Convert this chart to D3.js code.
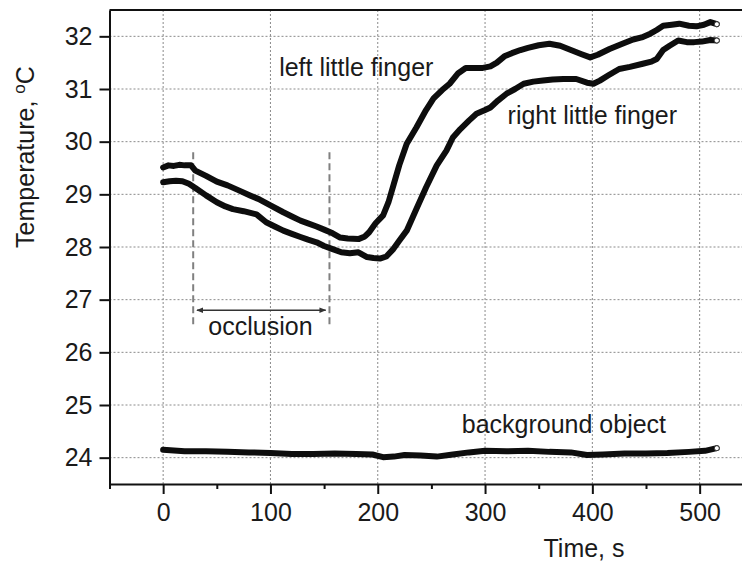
<!DOCTYPE html>
<html>
<head>
<meta charset="utf-8">
<script src="https://cdn.jsdelivr.net/npm/d3@7"></script>
<style>
    body { margin: 0; background: #fff; }
    svg { display: block; font-family: "Liberation Sans", Arial, sans-serif; }
</style>
</head>
<body>
<div id="chart"></div>
<script>
// Time (s) and temperature (oC)
var leftTime = [0, 5, 10, 15, 20, 26, 30, 40, 50, 60, 70, 81, 90, 100, 112, 120, 128, 135, 143, 150, 158, 165, 172, 182, 188, 192, 198, 205, 210, 215, 220, 227, 236, 245, 252, 260, 267, 275, 282, 290, 298, 305, 311, 318, 325, 333, 340, 350, 360, 370, 380, 390, 398, 405, 416, 428, 438, 446, 454, 460, 466, 474, 481, 490, 497, 504, 510, 516];
var leftTemp = [29.51, 29.55, 29.54, 29.56, 29.55, 29.55, 29.45, 29.35, 29.24, 29.17, 29.08, 28.98, 28.9, 28.79, 28.66, 28.58, 28.5, 28.45, 28.39, 28.33, 28.26, 28.18, 28.16, 28.15, 28.2, 28.28, 28.45, 28.6, 28.85, 29.2, 29.55, 29.96, 30.27, 30.6, 30.82, 30.98, 31.1, 31.3, 31.4, 31.4, 31.4, 31.43, 31.5, 31.62, 31.68, 31.74, 31.78, 31.83, 31.86, 31.82, 31.74, 31.66, 31.6, 31.65, 31.76, 31.86, 31.94, 31.98, 32.05, 32.12, 32.2, 32.22, 32.24, 32.2, 32.19, 32.22, 32.27, 32.23];

var rightTime = [0, 6, 12, 18, 24, 30, 40, 50, 58, 65, 75, 87, 96, 105, 112, 120, 128, 135, 143, 150, 158, 166, 174, 182, 190, 196, 202, 208, 214, 220, 227, 236, 245, 255, 264, 270, 277, 285, 292, 300, 305, 312, 320, 328, 336, 345, 354, 363, 373, 385, 395, 401, 407, 415, 425, 435, 447, 455, 460, 466, 472, 480, 488, 495, 502, 510, 516];
var rightTemp = [29.23, 29.25, 29.26, 29.25, 29.2, 29.12, 28.98, 28.85, 28.77, 28.72, 28.68, 28.62, 28.47, 28.38, 28.31, 28.25, 28.19, 28.14, 28.09, 28.02, 27.96, 27.9, 27.88, 27.9, 27.81, 27.79, 27.78, 27.82, 27.95, 28.12, 28.31, 28.72, 29.13, 29.55, 29.83, 30.08, 30.24, 30.4, 30.53, 30.6, 30.65, 30.78, 30.91, 31.0, 31.1, 31.14, 31.16, 31.18, 31.19, 31.19, 31.12, 31.1, 31.16, 31.26, 31.38, 31.42, 31.48, 31.52, 31.57, 31.74, 31.82, 31.92, 31.89, 31.89, 31.9, 31.93, 31.92];

var bgTime = [0, 20, 40, 60, 80, 100, 120, 140, 160, 180, 195, 205, 215, 225, 240, 255, 270, 285, 300, 320, 340, 360, 380, 395, 410, 430, 450, 470, 490, 505, 516];
var bgTemp = [24.15, 24.12, 24.12, 24.11, 24.1, 24.09, 24.07, 24.07, 24.08, 24.07, 24.06, 24.01, 24.02, 24.05, 24.04, 24.02, 24.06, 24.1, 24.13, 24.12, 24.13, 24.11, 24.1, 24.05, 24.06, 24.08, 24.08, 24.09, 24.11, 24.13, 24.18];

var xTicks = [0, 100, 200, 300, 400, 500];
var xMinorTicks = [-50, 50, 150, 250, 350, 450, 550];
var yTicks = [24, 25, 26, 27, 28, 29, 30, 31, 32];

// Occlusion window (s) and annotation labels
var occlusion = [28, 155];
var labels = [
    { text: "left little finger", t: 180, v: 31.25 },
    { text: "right little finger", t: 400, v: 30.34 },
    { text: "background object", t: 373.5, v: 24.46 },
    { text: "occlusion", t: 90.7, v: 26.32 }
];

var width = 742;
var height = 562;

var x = d3.scaleLinear().domain([-50, 550]).range([109.5, 753.3]);
var y = d3.scaleLinear().domain([23.5, 32.5]).range([484, 10]);

var svg = d3.select("#chart").append("svg")
    .attr("width", width)
    .attr("height", height);

// Dotted grid
var grid = svg.append("g")
    .attr("stroke", "#8a8a8a")
    .attr("stroke-width", 1)
    .attr("stroke-dasharray", "2,2");

grid.selectAll(".vgrid").data(xTicks).enter().append("line")
    .attr("x1", function (d) { return x(d); })
    .attr("x2", function (d) { return x(d); })
    .attr("y1", y.range()[1])
    .attr("y2", y.range()[0]);

grid.selectAll(".hgrid").data(yTicks).enter().append("line")
    .attr("x1", x.range()[0])
    .attr("x2", x.range()[1])
    .attr("y1", function (d) { return y(d); })
    .attr("y2", function (d) { return y(d); });

// Axes
var xAxis = svg.append("g")
    .attr("transform", "translate(0," + y.range()[0] + ")")
    .call(d3.axisBottom(x).tickValues(xTicks).tickSize(10).tickPadding(9).tickSizeOuter(0));

var xMinor = svg.append("g")
    .attr("transform", "translate(0," + y.range()[0] + ")")
    .call(d3.axisBottom(x).tickValues(xMinorTicks).tickSize(5).tickFormat("").tickSizeOuter(0));
xMinor.select(".domain").remove();

var yAxis = svg.append("g")
    .attr("transform", "translate(" + x.range()[0] + ",0)")
    .call(d3.axisLeft(y).tickValues(yTicks).tickSize(10).tickPadding(7).tickSizeOuter(0));

// Top frame line
svg.append("line")
    .attr("x1", x.range()[0]).attr("x2", x.range()[1])
    .attr("y1", y.range()[1]).attr("y2", y.range()[1])
    .attr("stroke", "#111").attr("stroke-width", 2);

svg.selectAll(".domain, .tick line").attr("stroke", "#111").attr("stroke-width", 2);
svg.selectAll(".tick text").attr("font-size", 25).attr("fill", "#1a1a1a")
    .attr("font-family", "'Liberation Sans', Arial, sans-serif");

// Axis titles
svg.append("text")
    .attr("x", 584).attr("y", 557)
    .attr("text-anchor", "middle")
    .attr("font-size", 25).attr("fill", "#1a1a1a")
    .text("Time, s");

var yTitle = svg.append("text")
    .attr("transform", "translate(34,157) rotate(-90)")
    .attr("text-anchor", "middle")
    .attr("font-size", 25).attr("fill", "#1a1a1a");
yTitle.append("tspan").text("Temperature, ");
yTitle.append("tspan").attr("font-size", 17).attr("dy", -9).text("o");
yTitle.append("tspan").attr("dy", 9).text("C");

// Occlusion markers: dashed verticals and a double-headed arrow
var defs = svg.append("defs");
["start", "end"].forEach(function (k) {
    defs.append("marker")
        .attr("id", "arrow-" + k)
        .attr("viewBox", "0 0 10 10")
        .attr("refX", k === "end" ? 9 : 1).attr("refY", 5)
        .attr("markerWidth", 7).attr("markerHeight", 7)
        .attr("markerUnits", "userSpaceOnUse")
        .attr("orient", "auto")
        .append("path")
        .attr("d", k === "end" ? "M0,1L10,5L0,9Z" : "M10,1L0,5L10,9Z")
        .attr("fill", "#333");
});

svg.selectAll(".occl").data(occlusion).enter().append("line")
    .attr("x1", function (d) { return x(d); })
    .attr("x2", function (d) { return x(d); })
    .attr("y1", y(29.8))
    .attr("y2", y(26.5))
    .attr("stroke", "#808080")
    .attr("stroke-width", 2)
    .attr("stroke-dasharray", "7,4");

svg.append("line")
    .attr("x1", x(occlusion[0] + 3.5)).attr("x2", x(occlusion[1] - 3.5))
    .attr("y1", y(26.8)).attr("y2", y(26.8))
    .attr("stroke", "#333").attr("stroke-width", 1.5)
    .attr("marker-start", "url(#arrow-start)")
    .attr("marker-end", "url(#arrow-end)");

// Temperature traces
var series = [
    { t: leftTime, v: leftTemp },
    { t: rightTime, v: rightTemp },
    { t: bgTime, v: bgTemp }
];

var line = d3.line()
    .x(function (d) { return x(d[0]); })
    .y(function (d) { return y(d[1]); });

series.forEach(function (s) {
    var pts = s.t.map(function (t, i) { return [t, s.v[i]]; });
    svg.append("path")
        .datum(pts)
        .attr("d", line)
        .attr("fill", "none")
        .attr("stroke", "#0d0d0d")
        .attr("stroke-width", 6)
        .attr("stroke-linejoin", "round")
        .attr("stroke-linecap", "round");
    var last = pts[pts.length - 1];
    svg.append("circle")
        .attr("cx", x(last[0])).attr("cy", y(last[1]))
        .attr("r", 2.5)
        .attr("fill", "#fff").attr("stroke", "#333").attr("stroke-width", 1);
});

// Annotations
svg.selectAll(".label").data(labels).enter().append("text")
    .attr("x", function (d) { return x(d.t); })
    .attr("y", function (d) { return y(d.v); })
    .attr("text-anchor", "middle")
    .attr("font-size", 25)
    .attr("fill", "#1a1a1a")
    .text(function (d) { return d.text; });
</script>
</body>
</html>
